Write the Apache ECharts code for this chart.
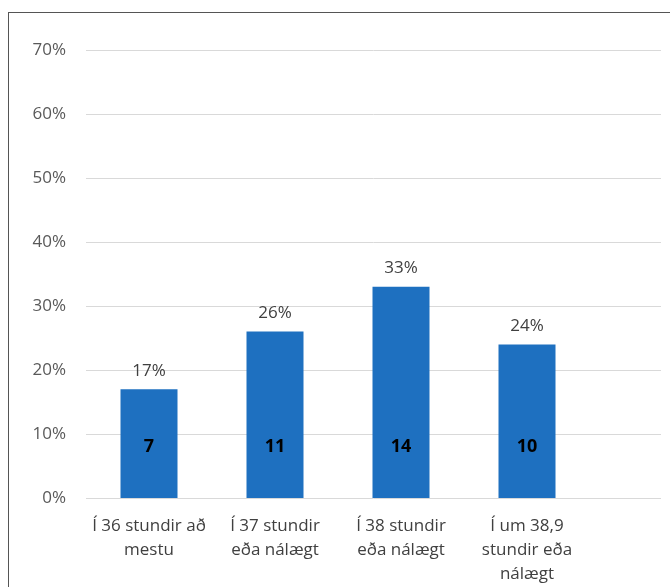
<!DOCTYPE html>
<html>
<head>
<meta charset="utf-8">
<script src="https://cdn.jsdelivr.net/npm/echarts@6/dist/echarts.min.js"></script>
<style>
html,body{margin:0;padding:0;background:#fff;}
#frame{position:absolute;left:8px;top:12px;width:700px;height:600px;border-left:1.5px solid #555;border-top:1.5px solid #555;box-sizing:border-box;}
#c{position:absolute;left:0;top:0;width:670px;height:587px;}
</style>
</head>
<body>
<div id="frame"></div>
<div id="c"></div>
<script>
const categories = ['Í 36 stundir að\nmestu', 'Í 37 stundir\neða nálægt', 'Í 38 stundir\neða nálægt', 'Í um 38,9\nstundir eða\nnálægt'];
const percentValues = [17, 26, 33, 24];
const countValues = [7, 11, 14, 10];
const yTicks = [0, 10, 20, 30, 40, 50, 60, 70];

const FONT = '"Open Sans", sans-serif';
const chart = echarts.init(document.getElementById('c'), null, {renderer: 'canvas'});
chart.setOption({
  animation: false,
  backgroundColor: 'transparent',
  textStyle: {fontFamily: FONT},
  grid: [
    {left: 86, right: 80, top: 50, bottom: 89},
    {left: 86, right: 9, top: 50, bottom: 89}
  ],
  xAxis: [
    {
      type: 'category', gridIndex: 0, data: categories,
      axisLine: {show: false}, axisTick: {show: false},
      axisLabel: {color: '#404040', fontSize: 17, fontFamily: FONT, lineHeight: 24, margin: 16, interval: 0}
    },
    {type: 'value', gridIndex: 1, show: false, min: 0, max: 1}
  ],
  yAxis: [
    {type: 'value', gridIndex: 0, min: yTicks[0], max: yTicks[yTicks.length - 1], interval: 10, show: false},
    {
      type: 'value', gridIndex: 1, min: yTicks[0], max: yTicks[yTicks.length - 1], interval: 10,
      axisLine: {show: false}, axisTick: {show: false},
      axisLabel: {color: '#595959', fontSize: 17, fontFamily: FONT, margin: 20, formatter: v => v + '%'},
      splitLine: {lineStyle: {color: '#d9d9d9', width: 1}}
    }
  ],
  series: [
    {
      type: 'bar', xAxisIndex: 0, yAxisIndex: 0,
      data: percentValues, barWidth: 57,
      itemStyle: {color: '#1E70C0'},
      label: {show: true, position: 'top', distance: 10, color: '#404040', fontSize: 17, fontFamily: FONT, formatter: p => p.value + '%'}
    },
    {
      type: 'bar', xAxisIndex: 0, yAxisIndex: 0,
      data: percentValues, barWidth: 57, barGap: '-100%',
      itemStyle: {color: 'transparent'},
      label: {show: true, position: 'insideBottom', distance: 42, color: '#000', fontSize: 18, fontWeight: 'bold', fontFamily: FONT,
        formatter: p => String(countValues[p.dataIndex])}
    }
  ]
});
</script>
</body>
</html>
